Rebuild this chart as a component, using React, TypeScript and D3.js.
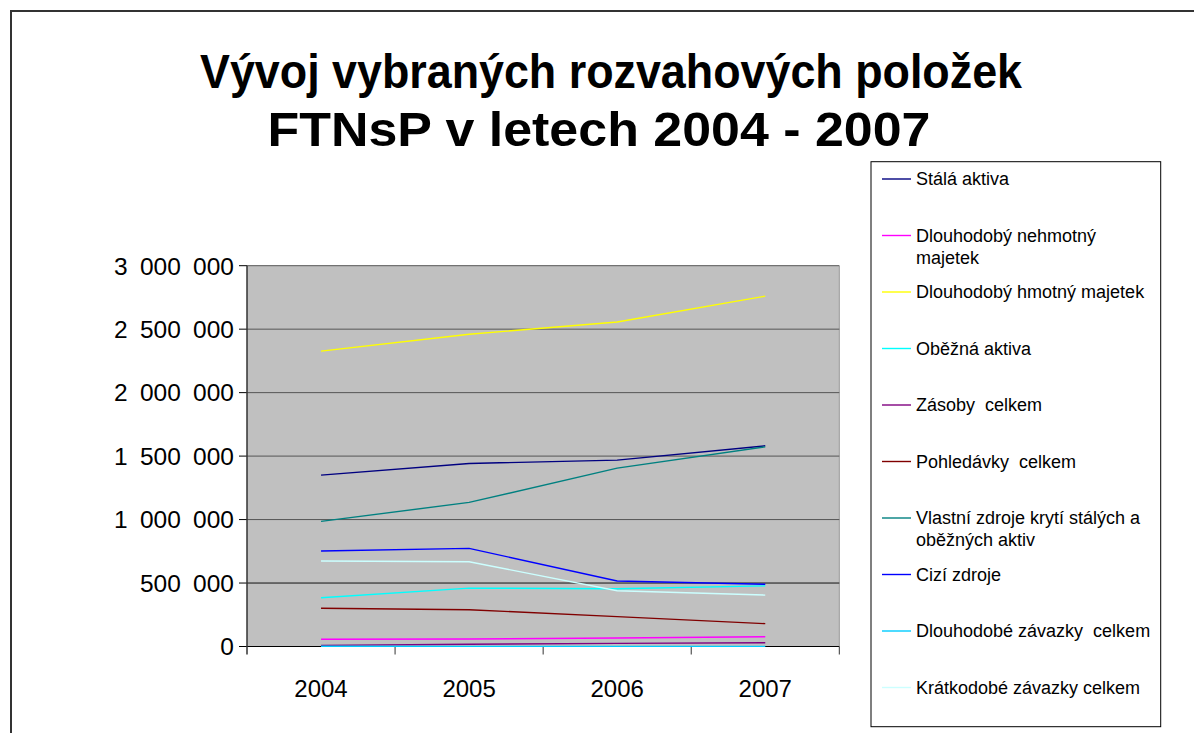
import React from "react";
import * as d3 from "d3";

const years = ["2004", "2005", "2006", "2007"];

const seriesNames = [
  "Stálá aktiva",
  "Dlouhodobý nehmotný majetek",
  "Dlouhodobý hmotný majetek",
  "Oběžná aktiva",
  "Zásoby  celkem",
  "Pohledávky  celkem",
  "Vlastní zdroje krytí stálých a oběžných aktiv",
  "Cizí zdroje",
  "Dlouhodobé závazky  celkem",
  "Krátkodobé závazky celkem",
];

const legendLines = [
  ["Stálá aktiva"],
  ["Dlouhodobý nehmotný", "majetek"],
  ["Dlouhodobý hmotný majetek"],
  ["Oběžná aktiva"],
  ["Zásoby  celkem"],
  ["Pohledávky  celkem"],
  ["Vlastní zdroje krytí stálých a", "oběžných aktiv"],
  ["Cizí zdroje"],
  ["Dlouhodobé závazky  celkem"],
  ["Krátkodobé závazky celkem"],
];

const seriesColors = [
  "#000080",
  "#FF00FF",
  "#FFFF00",
  "#00FFFF",
  "#800080",
  "#800000",
  "#008080",
  "#0000FF",
  "#00CCFF",
  "#CCFFFF",
];

const stalaAktiva = [1350000, 1442000, 1468000, 1581000];
const nehmotny = [57000, 59000, 67000, 77000];
const hmotny = [2327000, 2460000, 2557000, 2760000];
const obeznaAktiva = [384000, 460000, 455000, 478000];
const zasoby = [9000, 18000, 25000, 30000];
const pohledavky = [301000, 290000, 235000, 180000];
const vlastniZdroje = [986000, 1135000, 1405000, 1573000];
const ciziZdroje = [752000, 773000, 516000, 490000];
const dlouhodobeZavazky = [1500, 1200, 1000, 800];
const kratkodobeZavazky = [673000, 668000, 439000, 405000];

const seriesValues = [
  stalaAktiva,
  nehmotny,
  hmotny,
  obeznaAktiva,
  zasoby,
  pohledavky,
  vlastniZdroje,
  ciziZdroje,
  dlouhodobeZavazky,
  kratkodobeZavazky,
];

const yTicks = [0, 500000, 1000000, 1500000, 2000000, 2500000, 3000000];
const titleLines = ["Vývoj vybraných rozvahových položek", "FTNsP v letech 2004 - 2007"];
const titleWidths = [822, 663];

const fmt = (v: number) => d3.format(",")(v).replace(/,/g, "\u2002");

export default function App() {
  const W = 1194;
  const H = 733;
  const plot = { left: 247, right: 839.3, top: 265.7, bottom: 646.5 };

  const x = d3.scaleBand<string>().domain(years).range([plot.left, plot.right]).padding(0);
  const y = d3.scaleLinear().domain([0, 3000000]).range([plot.bottom, plot.top]);
  const cx = (yr: string) => (x(yr) as number) + x.bandwidth() / 2;

  const line = d3
    .line<number>()
    .x((_, i) => cx(years[i]))
    .y((d) => y(d));

  const font = "'Liberation Sans', Arial, sans-serif";
  const legend = { x: 871, y: 161.7, w: 289.7, h: 565 };
  const legendY = (i: number) => 179 + i * 56.5;

  return (
    <svg
      width={W}
      height={H}
      style={{ position: "absolute", left: 0, top: 0, background: "#fff" }}
      fontFamily={font}
    >
      <rect x={11} y={11} width={1300} height={900} fill="#fff" stroke="#333" strokeWidth={2} />

      {titleLines.map((t, i) => (
        <text
          key={i}
          x={597 - titleWidths[i] / 2 + (i === 1 ? 2 : 14)}
          y={88 + i * 58}
          fontSize={49}
          fontWeight="bold"
          fill="#000"
          textLength={titleWidths[i]}
          lengthAdjust="spacingAndGlyphs"
        >
          {t}
        </text>
      ))}

      <rect
        x={plot.left}
        y={plot.top}
        width={plot.right - plot.left}
        height={plot.bottom - plot.top}
        fill="#C0C0C0"
      />
      <line x1={plot.right} x2={plot.right} y1={plot.top} y2={plot.bottom} stroke="#999" strokeWidth={1} />

      {yTicks.map((t) => (
        <g key={t}>
          <line
            x1={plot.left}
            x2={plot.right}
            y1={y(t)}
            y2={y(t)}
            stroke={t === 0 ? "#000" : t === 500000 ? "#111" : "#555"}
            strokeWidth={1}
          />
          <line x1={239} x2={plot.left} y1={y(t)} y2={y(t)} stroke="#000" strokeWidth={1} />
          <text x={234} y={y(t)} dy="0.36em" textAnchor="end" fontSize={24.5} fill="#000">
            {fmt(t)}
          </text>
        </g>
      ))}

      <line x1={plot.left} x2={plot.left} y1={plot.top} y2={plot.bottom + 8} stroke="#333" strokeWidth={1.5} />
      {years.map((yr) => (
        <line
          key={"t" + yr}
          x1={(x(yr) as number) + x.bandwidth()}
          x2={(x(yr) as number) + x.bandwidth()}
          y1={plot.bottom}
          y2={plot.bottom + 8}
          stroke="#333"
          strokeWidth={1}
        />
      ))}
      {years.map((yr) => (
        <text key={yr} x={cx(yr)} y={688} dy="0.36em" textAnchor="middle" fontSize={24} fill="#000">
          {yr}
        </text>
      ))}

      {seriesValues.map((vals, i) => (
        <path key={seriesNames[i]} d={line(vals) as string} fill="none" stroke={seriesColors[i]} strokeWidth={1.4} />
      ))}

      <rect x={legend.x} y={legend.y} width={legend.w} height={legend.h} fill="#fff" stroke="#000" strokeWidth={1} />
      {legendLines.map((lines, i) => (
        <g key={"l" + i}>
          <line x1={882} x2={911} y1={legendY(i)} y2={legendY(i)} stroke={seriesColors[i]} strokeWidth={1.4} />
          {lines.map((ln, j) => (
            <text key={j} x={916} y={legendY(i) + j * 21.7} dy="0.36em" fontSize={18} fill="#000" style={{ whiteSpace: "pre" }}>
              {ln}
            </text>
          ))}
        </g>
      ))}
    </svg>
  );
}
